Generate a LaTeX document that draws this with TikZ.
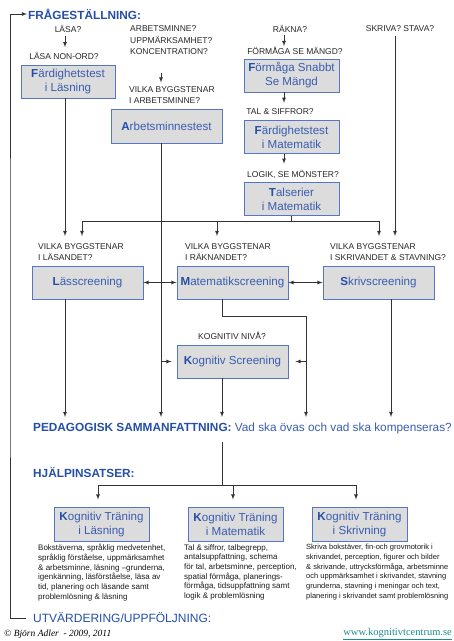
\documentclass[tikz,border=0pt]{standalone}
\usepackage{fontspec}
\setmainfont{Liberation Sans}
\newfontfamily\seriffont{Liberation Serif}
\usetikzlibrary{arrows}
\definecolor{boxblue}{RGB}{84,118,196}
\definecolor{boxgray}{RGB}{220,220,220}
\definecolor{txtblue}{RGB}{58,92,176}
\definecolor{headblue}{RGB}{36,78,168}
\definecolor{urlteal}{RGB}{30,140,140}
\newcommand{\fs}[2]{\fontsize{#1}{#2}\selectfont}
\newcommand{\first}[1]{\textbf{\color{headblue}#1}}

\begin{document}
\begin{tikzpicture}[x=1pt,y=-1pt,>=latex,
		box/.style={draw=boxblue,fill=boxgray,line width=0.9pt,text=txtblue,
			font=\fs{11.6}{14},align=center,inner sep=0pt,minimum height=33pt},
		lbl/.style={font=\fs{8.5}{10.5},text=black!85,inner sep=0pt,align=left},
		head/.style={font=\bfseries\fs{11.8}{14},text=headblue,inner sep=0pt,anchor=west},
		desc/.style={font=\fs{8}{9.7},text=black!90,inner sep=0pt,align=left,anchor=north west},
		wire/.style={draw=black!80,line width=0.8pt}]
		\useasboundingbox (0,0) rectangle (454,641);
		% questions
		\node (FR) [head] at (28,14) {FRÅGESTÄLLNING:};
		\node (LA) [lbl] at (68,29) {LÄSA?};
		\node (LN) [lbl] at (64,56) {LÄSA NON-ORD?};
		\node (FL) [box,minimum width=94pt] at (68,81.5) 
			{\first{F}ärdighetstest\\i Läsning};
		\node (AQ) [lbl,anchor=west,font=\fs{8.5}{11.5}] at (130,40.5) 
			{ARBETSMINNE?\\UPPMÄRKSAMHET?\\KONCENTRATION?};
		\node (AV) [lbl,anchor=west] at (129,95) {VILKA BYGGSTENAR\\I ARBETSMINNE?};
		\node (AM) [box,minimum width=111pt,minimum height=34pt] at (166.5,126) 
			{\first{A}rbetsminnestest};
		\node (RA) [lbl] at (290,29) {RÄKNA?};
		\node (RM) [lbl] at (295,51) {FÖRMÅGA SE MÄNGD?};
		\node (FS) [box,minimum width=95pt] at (291.5,75.5) 
			{\first{F}örmåga Snabbt\\Se Mängd};
		\node (RT) [lbl] at (280,112) {TAL \& SIFFROR?};
		\node (FM) [box,minimum width=95pt] at (291.5,137) 
			{\first{F}ärdighetstest\\i Matematik};
		\node (RL) [lbl] at (293,174) {LOGIK, SE MÖNSTER?};
		\node (TM) [box,minimum width=95pt] at (291.5,199) 
			{\first{T}alserier\\i Matematik};
		\node (SK) [lbl] at (400,29) {SKRIVA? STAVA?};
		% screenings
		\node (LL) [lbl,anchor=west] at (38,252) {VILKA BYGGSTENAR\\I LÄSANDET?};
		\node (ML) [lbl,anchor=west] at (185,252) {VILKA BYGGSTENAR\\I RÄKNANDET?};
		\node (SL) [lbl,anchor=west] at (330,252) {VILKA BYGGSTENAR\\I SKRIVANDET \& STAVNING?};
		\node (LS) [box,minimum width=111pt] at (87.5,282.5) {\first{L}ässcreening};
		\node (MS) [box,minimum width=111pt] at (232.5,282.5) {\first{M}atematikscreening};
		\node (SS) [box,minimum width=111pt] at (378.5,282.5) {\first{S}krivscreening};
		\node (KN) [lbl] at (232,336) {KOGNITIV NIVÅ?};
		\node (KS) [box,minimum width=111pt] at (232.5,361.5) {\first{K}ognitiv Screening};
		\node (PS) [head] at (33,428) 
			{PEDAGOGISK SAMMANFATTNING: {\mdseries\color{txtblue}Vad ska övas och vad ska kompenseras?}};
		% training
		\node (HJ) [head] at (33,473) {HJÄLPINSATSER:};
		\node (KL) [box,minimum width=95pt,minimum height=34pt] at (101.5,524) 
			{\first{K}ognitiv Träning\\i Läsning};
		\node (KM) [box,minimum width=95pt,minimum height=34pt] at (235.5,524) 
			{\first{K}ognitiv Träning\\i Matematik};
		\node (KR) [box,minimum width=95pt,minimum height=34pt] at (359.5,524) 
			{\first{K}ognitiv Träning\\i Skrivning};
		\node (DL) [desc] at (38,544) 
			{Bokstäverna, språklig medvetenhet,\\språklig förståelse, uppmärksamhet\\
			\& arbetsminne, läsning –grunderna,\\igenkänning, läsförståelse, läsa av\\
			tid, planering och läsande samt\\problemlösning \& läsning};
		\node (DM) [desc] at (184,544) 
			{Tal \& siffror, talbegrepp,\\antalsuppfattning, schema\\
			för tal, arbetsminne, perception,\\spatial förmåga, planerings-\\
			förmåga, tidsuppfattning samt\\logik \& problemlösning};
		\node (DR) [desc,font=\fs{7.5}{9.7}] at (306,544) 
			{Skriva bokstäver, fin-och grovmotorik i\\skrivandet, perception, figurer och bilder\\
			\& skrivande, uttrycksförmåga, arbetsminne\\och uppmärksamhet i skrivandet, stavning\\
			grunderna, stavning i meningar och text,\\planering i skrivandet samt problemlösning};
		\node (UT) [head,font=\fs{12}{14}] at (33,618) {UTVÄRDERING/UPPFÖLJNING:};
		\node (CR) [anchor=west,inner sep=0pt,font=\seriffont\itshape\fs{9.5}{11}] at (4,634) 
			{© Björn Adler\ \ - 2009, 2011};
		\node (WW) [anchor=east,inner sep=0pt,font=\seriffont\fs{10.5}{13},text=urlteal] at (452,634) 
			{\underline{www.kognitivtcentrum.se}};
		% columns and rows
		\coordinate (xL) at (65,0);
		\coordinate (xA) at (161,0);
		\coordinate (xR) at (284,0);
		\coordinate (xS) at (395,0);
		\coordinate (xM) at (222,0);
		\coordinate (xK) at (306,0);
		\coordinate (xW) at (391,0);
		\coordinate (yR) at (0,236);
		\coordinate (yP) at (0,417);
		\coordinate (yM) at (0,316);
		\coordinate (B1) at (82,221);
		\coordinate (B2) at (217,221);
		\coordinate (B3) at (379,221);
		\coordinate (H1) at (98,485);
		\coordinate (H2) at (233,485);
		\coordinate (H3) at (356,485);
		\coordinate (LB) at (10,300);
		% connectors
		\draw [wire,->,shorten >=1pt] ([xshift=-7pt]UT.west) -| (LB) |- (FR.west);
		\draw [wire,->,shorten <=3pt,shorten >=5pt] (LA.south -| xL) to (LN.north -| xL);
		\draw [wire,->,shorten <=18pt,shorten >=4pt] (AQ.south -| xA) to (AV.north -| xA);
		\draw [wire,->,shorten <=2pt,shorten >=1pt] (RA.south -| xR) to (RM.north -| xR);
		\draw [wire,->,shorten >=6pt] (FS.south -| xR) to (RT.north -| xR);
		\draw [wire,->,shorten >=6pt] (FM.south -| xR) to (RL.north -| xR);
		\draw [wire] (TM.south) to (TM.south |- B1);
		\draw [wire] (B1) to (B3);
		\draw [wire,->] (B1) to (B1 |- yR);
		\draw [wire,->] (B2) to (B2 |- yR);
		\draw [wire,->] (B3) to (B3 |- yR);
		\draw [wire,->,shorten <=4pt] (SK.south -| xS) to (xS |- yR);
		\draw [wire,->] (FL.south -| xL) to (xL |- yR);
		\draw [wire,->] (AM.south -| xA) to (xA |- yP);
		\draw [wire,<->] (LS) to (MS);
		\draw [wire,<->] (MS) to (SS);
		\draw [wire,->] (LS.south -| xL) to (xL |- yP);
		\draw [wire,->] (MS.south -| xM) -- (xM |- yM) -| (xK |- yP);
		\draw [wire,->,shorten >=5pt] (KS.west -| xA) to (KS.west);
		\draw [wire,->,shorten >=7pt] (KS.east -| xK) to (KS.east);
		\draw [wire,->] (KS.south -| xM) to (xM |- yP);
		\draw [wire,->] (SS.south -| xW) to (xW |- yP);
		\draw [wire,shorten <=8pt] (PS.south -| xM) to (H1 -| xM);
		\draw [wire] (H1) to (H3);
		\draw [wire,->,shorten >=7pt] (H1) to (KL.north -| H1);
		\draw [wire,->,shorten >=7pt] (H2) to (KM.north -| H2);
		\draw [wire,->,shorten >=7pt] (H3) to (KR.north -| H3);
	\end{tikzpicture}
\end{document}
